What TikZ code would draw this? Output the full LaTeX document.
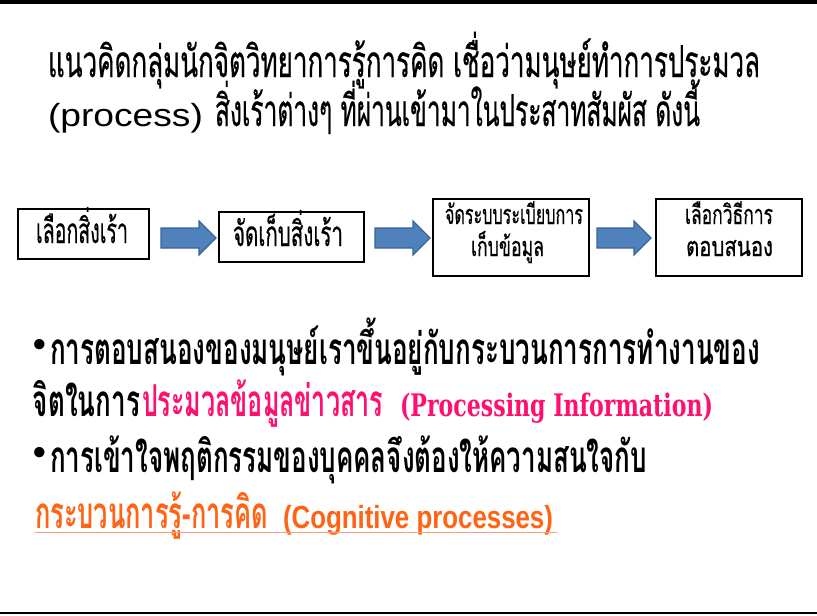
\documentclass[tikz,border=0pt]{standalone}
\usepackage{fontspec}
\usepackage{graphicx}
\usetikzlibrary{calc}
\newfontfamily\thai[Script=Thai]{Loma}
\newfontfamily\thaimed[Script=Thai,FakeBold=0.6]{Loma}
\newfontfamily\lsans{Liberation Sans}
\newfontfamily\dserif{DejaVu Serif}
\definecolor{pinkc}{HTML}{FF0F6F}
\definecolor{orangec}{HTML}{FF6414}
\definecolor{ulinec}{HTML}{F7A27A}
\definecolor{afill}{HTML}{4F81BD}
\definecolor{aline}{HTML}{3A6395}
\newcommand\fitw[2]{\resizebox{#1pt}{\height}{#2}}
\newcommand\blockarrow[2]{%
  \draw[barrowstyle] ($(#1)+(0,-10)$) -- ($(#2)+(-17,-10)$) -- ($(#2)+(-17,-17)$) -- (#2)
    -- ($(#2)+(-17,17)$) -- ($(#2)+(-17,10)$) -- ($(#1)+(0,10)$) -- cycle;}
\tikzset{
  txt/.style={inner sep=0pt, outer sep=0pt, anchor=base west},
  ctxt/.style={inner sep=0pt, outer sep=0pt, anchor=base},
  stagebox/.style={draw=black, line width=2.6pt, inner sep=0pt, fill=white},
  barrowstyle/.style={fill=afill, draw=aline, line width=1.2pt, line join=miter},
  titlefont/.style={font=\thaimed\fontsize{44}{50}\selectfont},
  bodyfont/.style={font=\thai\bfseries\fontsize{44}{50}\selectfont},
  bigbox/.style={font=\thaimed\fontsize{35}{40}\selectfont},
  smallbox/.style={font=\thaimed\fontsize{27}{32}\selectfont},
  bulletfont/.style={font=\lsans\bfseries\fontsize{36}{40}\selectfont},
}
\begin{document}
\begin{tikzpicture}[x=1pt,y=-1pt]
\useasboundingbox (0,0) rectangle (817,616);
\fill[white] (0,0) rectangle (817,616);
\fill[black] (0,0) rectangle (817,4);
\fill[black] (0,611.5) rectangle (817,613.5);

% title
\node[txt,titlefont] (t1) at (48,77) {\fitw{712}{แนวคิดกลุ่มนักจิตวิทยาการรู้การคิด เชื่อว่ามนุษย์ทำการประมวล}};
\node[txt,font=\lsans\fontsize{32}{38}\selectfont] (t2a) at (48,126) {\fitw{155}{(process)}};
\node[txt,titlefont] (t2b) at (215,126) {\fitw{485}{สิ่งเร้าต่างๆ ที่ผ่านเข้ามาในประสาทสัมผัส ดังนี้}};

% boxes
\node[stagebox, minimum width=131pt, minimum height=50pt] (b1) at (83.5,234) {};
\node[stagebox, minimum width=145pt, minimum height=50pt] (b2) at (291.5,237) {};
\node[stagebox, minimum width=156pt, minimum height=77pt] (b3) at (511,237.5) {};
\node[stagebox, minimum width=146pt, minimum height=77pt] (b4) at (729,237.5) {};

\node[ctxt,bigbox] (b1t) at (82,243) {\fitw{92}{เลือกสิ่งเร้า}};
\node[ctxt,bigbox] (b2t) at (288,246) {\fitw{110}{จัดเก็บสิ่งเร้า}};
\node[ctxt,smallbox] (b3t1) at (514,224) {\fitw{138}{จัดระบบระเบียบการ}};
\node[ctxt,smallbox] (b3t2) at (507.5,256) {\fitw{73}{เก็บข้อมูล}};
\node[ctxt,smallbox] (b4t1) at (729,224) {\fitw{88}{เลือกวิธีการ}};
\node[ctxt,smallbox] (b4t2) at (729.5,256) {\fitw{87}{ตอบสนอง}};

% block arrows
\coordinate (a1s) at (161,238); \coordinate (a1e) at (216,238);
\coordinate (a2s) at (375,238); \coordinate (a2e) at (430,238);
\coordinate (a3s) at (597,238); \coordinate (a3e) at (651,238);
\blockarrow{a1s}{a1e}
\blockarrow{a2s}{a2e}
\blockarrow{a3s}{a3e}

% bullets text
\node[txt,bulletfont] (bul1) at (33,364) {\raisebox{8pt}{•}};
\node[txt,bodyfont] (l1) at (50,364) {\fitw{710}{การตอบสนองของมนุษย์เราขึ้นอยู่กับกระบวนการการทำงานของ}};
\node[txt,bodyfont] (l2a) at (33,416) {\fitw{107}{จิตในการ}};
\node[txt,bodyfont,text=pinkc] (l2b) at (142,416) {\fitw{241}{ประมวลข้อมูลข่าวสาร}};
\node[txt,font=\dserif\bfseries\fontsize{31}{34}\selectfont,text=pinkc] (l2c) at (400,416) {\fitw{313}{(Processing Information)}};
\node[txt,bulletfont] (bul2) at (33,472) {\raisebox{8pt}{•}};
\node[txt,bodyfont] (l3) at (50,472) {\fitw{597}{การเข้าใจพฤติกรรมของบุคคลจึงต้องให้ความสนใจกับ}};
\node[txt,bodyfont,text=orangec] (l4a) at (35,528) {\fitw{233}{กระบวนการรู้-การคิด}};
\node[txt,font=\lsans\bfseries\fontsize{32}{36}\selectfont,text=orangec] (l4b) at (283,528) {\fitw{270}{(Cognitive processes)}};
\draw[ulinec, line width=1pt] ($(l4a.base west)+(0,4)$) -- ($(l4b.base east)+(4,4)$);
\end{tikzpicture}
\end{document}
